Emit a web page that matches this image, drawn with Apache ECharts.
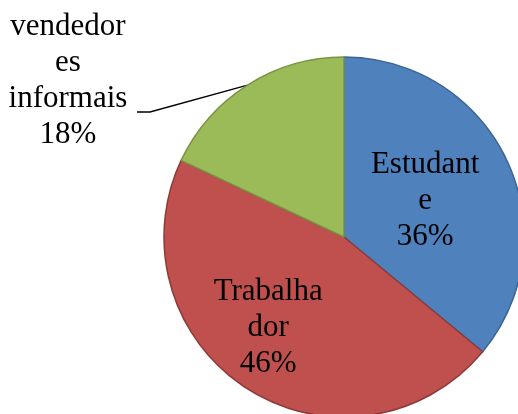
<!DOCTYPE html>
<html>
<head>
<meta charset="utf-8">
<script src="https://cdn.jsdelivr.net/npm/echarts@6/dist/echarts.min.js"></script>
<style>
html, body { margin: 0; padding: 0; background: #fff; }
#chart { width: 518px; height: 414px; }
</style>
</head>
<body>
<div id="chart"></div>
<script>
// dados do gráfico
const categories = ['Estudante', 'Trabalhador', 'vendedores informais'];
const values = [36, 46, 18];
const labelTexts = ['Estudant\ne\n36%', 'Trabalha\ndor\n46%', 'vendedor\nes\ninformais\n18%'];
const fillColors = ['#4F81BD', '#C0504D', '#9BBB59'];
const borderColors = ['#3A6494', '#8E3A38', '#7A9444'];

let myChart = echarts.init(document.getElementById('chart'));

let data = values.map((v, i) => {
    let item = {
        name: categories[i],
        value: v,
        itemStyle: { color: fillColors[i], borderColor: borderColors[i], borderWidth: 1.5 },
        label: { formatter: labelTexts[i] }
    };
    if (i === 2) {
        item.label.position = 'outside';
        item.labelLine = { show: true, lineStyle: { color: '#000', width: 1.3 } };
    } else {
        item.label.position = 'inside';
        item.labelLine = { show: false };
    }
    return item;
});
data[0].label.offset = [-3, 3];
data[1].label.offset = [-26, 12];

let option = {
    backgroundColor: '#fff',
    animation: false,
    series: [{
        type: 'pie',
        center: [344, 237],
        radius: 180,
        startAngle: 90,
        clockwise: true,
        label: {
            color: '#000',
            fontFamily: 'Liberation Serif',
            fontSize: 31,
            lineHeight: 36,
            align: 'center'
        },
        labelLayout: function (params) {
            if (params.dataIndex !== 2) return {};
            let lx = 68, ly = 9;
            let start = params.labelLinePoints ? params.labelLinePoints[0] : [246, 86];
            return {
                x: lx,
                y: ly,
                align: 'center',
                verticalAlign: 'top',
                labelLinePoints: [[lx + 69, ly + 103], [lx + 82, ly + 103], start]
            };
        },
        data: data
    }]
};

myChart.setOption(option);
</script>
</body>
</html>
